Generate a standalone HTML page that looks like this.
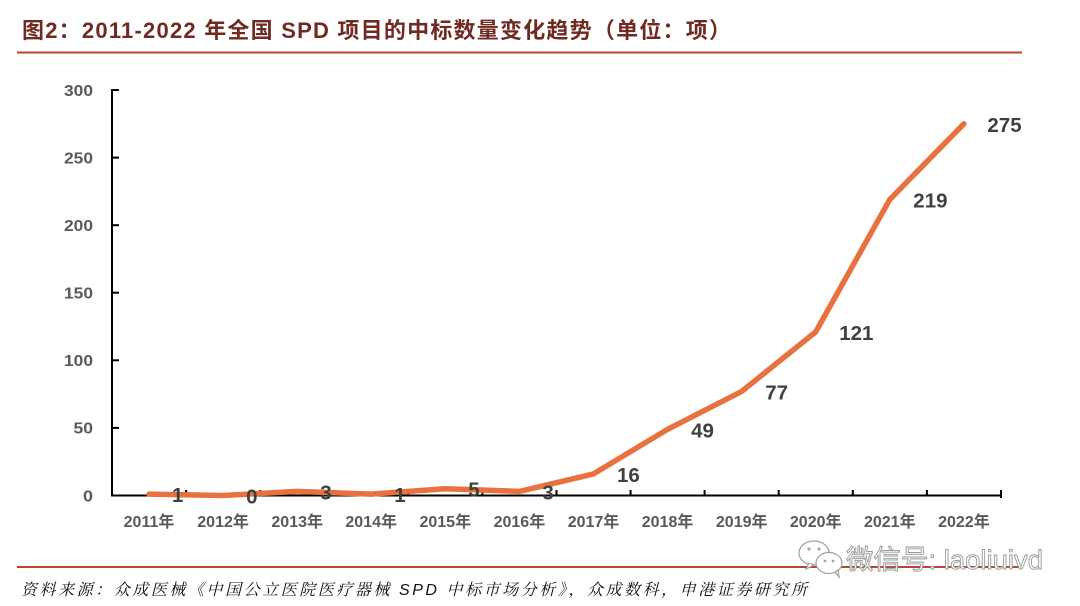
<!DOCTYPE html>
<html>
<head>
<meta charset="utf-8">
<style>
  html,body{margin:0;padding:0;background:#fff;}
  body{width:1080px;height:606px;overflow:hidden;}
  svg{display:block;}
  .ax{font-family:"Liberation Sans","Noto Sans CJK SC",sans-serif;font-weight:bold;fill:#595959;}
  .dl{font-family:"Liberation Sans","Noto Sans CJK SC",sans-serif;font-weight:bold;fill:#404040;font-size:20.5px;}
</style>
</head>
<body>
<svg width="1080" height="606" viewBox="0 0 1080 606" xmlns="http://www.w3.org/2000/svg">
  <!-- Title -->
  <text x="22" y="38" textLength="709" lengthAdjust="spacing" font-family="'Liberation Sans','Noto Sans CJK SC',sans-serif" font-weight="bold" font-size="22" fill="#6f2a22">图2：2011-2022 年全国 SPD 项目的中标数量变化趋势（单位：项）</text>
  <line x1="17" y1="52.5" x2="1022" y2="52.5" stroke="#b9452d" stroke-width="2"/>

  <!-- Y axis -->
  <line x1="112" y1="89" x2="112" y2="496.5" stroke="#000" stroke-width="2"/>
  <g stroke="#000" stroke-width="2">
    <line x1="112" y1="90" x2="119" y2="90"/>
    <line x1="112" y1="157.6" x2="119" y2="157.6"/>
    <line x1="112" y1="225.2" x2="119" y2="225.2"/>
    <line x1="112" y1="292.7" x2="119" y2="292.7"/>
    <line x1="112" y1="360.3" x2="119" y2="360.3"/>
    <line x1="112" y1="427.9" x2="119" y2="427.9"/>
  </g>
  <g class="ax" font-size="16" text-anchor="end">
    <text x="93" y="95.8" textLength="29" lengthAdjust="spacingAndGlyphs">300</text>
    <text x="93" y="163.4" textLength="29" lengthAdjust="spacingAndGlyphs">250</text>
    <text x="93" y="231" textLength="29" lengthAdjust="spacingAndGlyphs">200</text>
    <text x="93" y="298.5" textLength="29" lengthAdjust="spacingAndGlyphs">150</text>
    <text x="93" y="366.1" textLength="29" lengthAdjust="spacingAndGlyphs">100</text>
    <text x="93" y="433.7" textLength="19.5" lengthAdjust="spacingAndGlyphs">50</text>
    <text x="93" y="501.3" textLength="10" lengthAdjust="spacingAndGlyphs">0</text>
  </g>

  <!-- X axis -->
  <line x1="111" y1="495.5" x2="1002" y2="495.5" stroke="#000" stroke-width="2"/>
  <g stroke="#000" stroke-width="2">
    <line x1="186.1" y1="490" x2="186.1" y2="495"/>
    <line x1="260.2" y1="490" x2="260.2" y2="495"/>
    <line x1="334.2" y1="490" x2="334.2" y2="495"/>
    <line x1="408.3" y1="490" x2="408.3" y2="495"/>
    <line x1="482.4" y1="490" x2="482.4" y2="495"/>
    <line x1="556.5" y1="490" x2="556.5" y2="495"/>
    <line x1="630.6" y1="490" x2="630.6" y2="495"/>
    <line x1="704.6" y1="490" x2="704.6" y2="495"/>
    <line x1="778.7" y1="490" x2="778.7" y2="495"/>
    <line x1="852.8" y1="490" x2="852.8" y2="495"/>
    <line x1="926.9" y1="490" x2="926.9" y2="495"/>
    <line x1="1001" y1="490" x2="1001" y2="498"/>
  </g>
  <g class="ax" font-size="16" text-anchor="middle">
    <text x="149" y="527">2011年</text>
    <text x="223.1" y="527">2012年</text>
    <text x="297.2" y="527">2013年</text>
    <text x="371.2" y="527">2014年</text>
    <text x="445.3" y="527">2015年</text>
    <text x="519.4" y="527">2016年</text>
    <text x="593.5" y="527">2017年</text>
    <text x="667.6" y="527">2018年</text>
    <text x="741.7" y="527">2019年</text>
    <text x="815.7" y="527">2020年</text>
    <text x="889.8" y="527">2021年</text>
    <text x="963.9" y="527">2022年</text>
  </g>

  <!-- Series -->
  <polyline fill="none" stroke="#e8723f" stroke-width="5.5" stroke-linejoin="round" stroke-linecap="round"
    points="149,494.1 223.1,495.5 297.2,491.4 371.2,494.1 445.3,488.7 519.4,491.4 593.5,473.9 667.6,429.3 741.7,391.4 815.7,331.9 889.8,199.5 963.9,123.8"/>

  <!-- Data labels -->
  <g class="dl">
    <text x="172" y="502.1">1</text>
    <text x="246.1" y="503.5">0</text>
    <text x="320.2" y="499.4">3</text>
    <text x="394.2" y="502.1">1</text>
    <text x="468.3" y="496.7">5</text>
    <text x="542.4" y="499.4">3</text>
    <text x="617" y="481.9">16</text>
    <text x="691.1" y="437.3">49</text>
    <text x="765.2" y="399.4">77</text>
    <text x="839.2" y="339.9">121</text>
    <text x="913.3" y="207.5">219</text>
    <text x="987.4" y="131.8">275</text>
  </g>

  <!-- Bottom rule -->
  <line x1="17" y1="567" x2="1020" y2="567" stroke="#b9452d" stroke-width="2"/>

  <!-- Watermark -->
  <g fill="#fff" stroke="#a0a0a0" stroke-width="1.2">
    <ellipse cx="814" cy="553" rx="15" ry="12"/>
    <path d="M809 563 l-3 6 l8 -4 z"/>
    <ellipse cx="829" cy="563" rx="13" ry="10.5"/>
    <path d="M835 572 l4 5 l-1 -7 z"/>
  </g>
  <g fill="#a8a8a8">
    <circle cx="809" cy="549" r="1.6"/>
    <circle cx="819" cy="549" r="1.6"/>
    <circle cx="825" cy="561" r="1.4"/>
    <circle cx="833" cy="561" r="1.4"/>
  </g>
  <text x="846" y="569" textLength="197" lengthAdjust="spacingAndGlyphs" font-family="'Liberation Sans','Noto Sans CJK SC',sans-serif" font-size="27" fill="#fff" stroke="#9a9a9a" stroke-width="0.9">微信号: laoliuivd</text>

  <!-- Source -->
  <text x="21" y="595" textLength="786" lengthAdjust="spacing" font-family="'Liberation Sans','Noto Serif CJK SC',serif" font-style="italic" font-size="16" fill="#111">资料来源：众成医械《中国公立医院医疗器械 SPD 中标市场分析》，众成数科，申港证券研究所</text>
</svg>
</body>
</html>
